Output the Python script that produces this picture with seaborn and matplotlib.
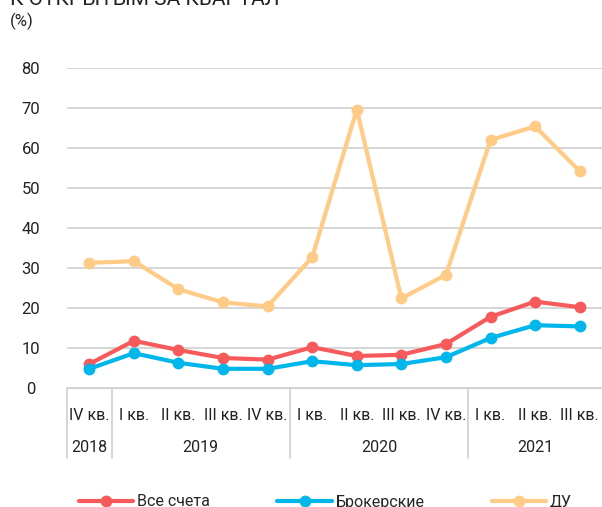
import pandas as pd
import matplotlib.pyplot as plt
import matplotlib.transforms as mtransforms
import seaborn as sns

# quarters and values (%)
quarters = ['IV кв.', 'I кв.', 'II кв.', 'III кв.', 'IV кв.',
            'I кв.', 'II кв.', 'III кв.', 'IV кв.',
            'I кв.', 'II кв.', 'III кв.']
years = ['2018', '2019', '2020', '2021']
year_spans = [(0, 0), (1, 4), (5, 8), (9, 11)]

all_accounts = [6.0, 11.8, 9.5, 7.5, 7.1, 10.2, 8.0, 8.3, 11.0, 17.8, 21.6, 20.2]
brokerage = [4.8, 8.7, 6.3, 4.8, 4.8, 6.7, 5.7, 6.0, 7.7, 12.5, 15.7, 15.4]
du = [31.3, 31.7, 24.7, 21.4, 20.4, 32.7, 69.6, 22.4, 28.3, 62.0, 65.4, 54.2]

series_names = ['Все счета', 'Брокерские', 'ДУ']
colors = ['#F65A5B', '#00B6EA', '#FFCB86']

df = pd.DataFrame({
    'pos': list(range(12)) * 3,
    'value': all_accounts + brokerage + du,
    'series': [s for s in series_names for _ in range(12)],
})

sns.set_style('white')
plt.rcParams['font.family'] = ['Roboto', 'DejaVu Sans']

fig = plt.figure(figsize=(6.02, 5.07), dpi=100)
ax = fig.add_axes([67 / 602, 1 - 388 / 507, 535 / 602, 320 / 507])

sns.lineplot(data=df, x='pos', y='value', hue='series',
             palette=dict(zip(series_names, colors)),
             marker='o', markersize=8.5, markeredgewidth=0,
             linewidth=3, ax=ax, legend=True)

ax.set_xlim(-0.5, 11.5)
ax.set_ylim(0, 80)
ax.set_yticks(range(0, 81, 10))
ax.yaxis.grid(True, color='#D0D0D0', linewidth=1.2)
ax.set_axisbelow(True)
for sp in ['top', 'right', 'left']:
    ax.spines[sp].set_visible(False)
ax.spines['bottom'].set_color('#D0D0D0')
ax.set_xlabel('')
ax.set_ylabel('')
ax.tick_params(axis='y', length=0, pad=26, labelsize=12, labelcolor='#222222')
for lbl in ax.get_yticklabels():
    lbl.set_horizontalalignment('center')

# two-level category axis
ax.set_xticks(range(12))
ax.set_xticklabels([])
ax.tick_params(axis='x', length=0)
trans = mtransforms.blended_transform_factory(ax.transData, ax.transAxes)
for i, q in enumerate(quarters):
    ax.text(i, -27 / 320, q, transform=trans, ha='center', va='center',
            fontsize=11.5, color='#222222')
for y, (a, b) in zip(years, year_spans):
    ax.text((a + b) / 2, -60 / 320, y, transform=trans, ha='center', va='center',
            fontsize=11.5, color='#222222')
for xs in [-0.5, 0.5, 4.5, 8.5]:
    ax.plot([xs, xs], [0, -70 / 320], transform=trans, color='#D0D0D0',
            linewidth=1.2, clip_on=False)

for line in ax.get_lines():
    line.set_clip_on(False)

handles, labels = ax.get_legend_handles_labels()
ax.get_legend().remove()
fig.legend(handles, labels, loc='center', ncol=3,
           bbox_to_anchor=(0.541, 1 - 502 / 507), frameon=False,
           fontsize=11.5, handlelength=3.4, columnspacing=4.2, handletextpad=0.25)

fig.text(10 / 602, 1 - 5 / 507, 'К ОТКРЫТЫМ ЗА КВАРТАЛ', ha='left', va='baseline',
         fontsize=15, color='#222222')
fig.text(10 / 602, 1 - 21 / 507, '(%)', ha='left', va='center',
         fontsize=12, color='#222222')

fig.savefig('out.png', dpi=100)
